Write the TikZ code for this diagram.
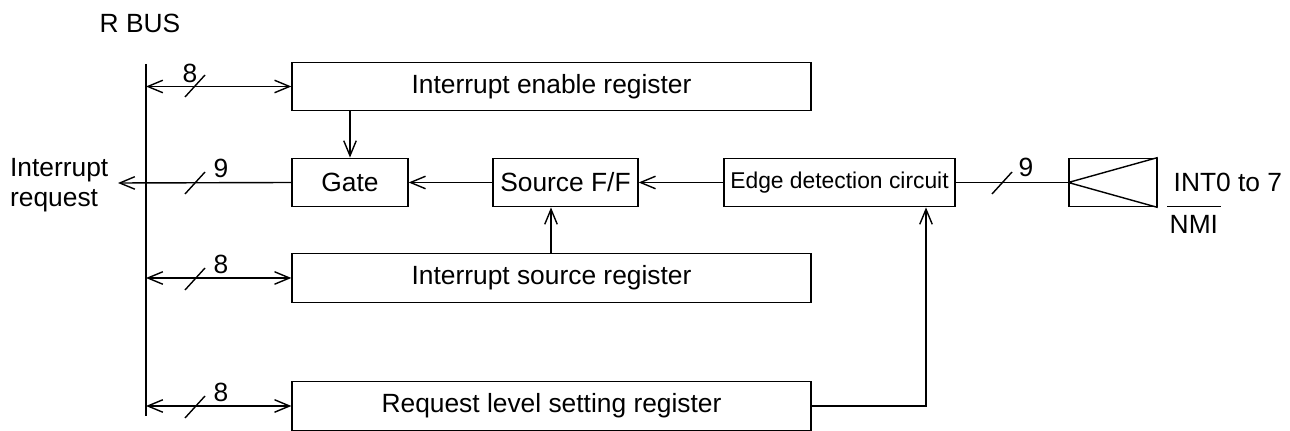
\documentclass[tikz,border=0pt]{standalone}
\usepackage{fontspec}
\setmainfont{Liberation Sans}
\usetikzlibrary{arrows.meta, positioning}

\begin{document}
\begin{tikzpicture}[
    x=0.02cm, y=-0.02cm,
    line width=0.8pt,
    box/.style={rectangle, draw, inner sep=0pt, minimum height=0.97cm,
                font=\fontsize{15}{17}\selectfont},
    arrow/.style={-{Straight Barb[length=0.3cm, width=0.25cm]}},
    biarrow/.style={{Straight Barb[length=0.3cm, width=0.25cm]}-{Straight Barb[length=0.3cm, width=0.25cm]}},
    lbl/.style={font=\fontsize{15}{17}\selectfont, inner sep=0pt}
]
\useasboundingbox (0,0) rectangle (1290,431);

\node[box, minimum width=10.38cm] (enable) at (551.5,86.5) {Interrupt enable register};
\node[box, minimum width=2.32cm]  (gate)   at (350,182.5)  {Gate};
\node[box, minimum width=2.9cm]   (srcff)  at (565.5,182.5) {Source F/F};
\node[box, minimum width=4.62cm, font=\fontsize{13}{15}\selectfont] (edge) at (839.5,182.5) {Edge detection circuit};
\node[box, minimum width=1.76cm]  (inbox)  at (1113,182.5) {};
\node[box, minimum width=10.38cm] (srcreg) at (551.5,278)  {Interrupt source register};
\node[box, minimum width=10.38cm] (reqreg) at (551.5,406)  {Request level setting register};

\node[lbl] (rbus) at (140,23) {R BUS};
\node[lbl, align=left, anchor=east] (irq) at (109,185.5) {Interrupt\\request};
\node[lbl, anchor=west] (intin) at (1173,182) {INT0 to 7};
\node[lbl, anchor=west] (nmi)   at (1169,224) {NMI};

\coordinate (bustop) at (146,64);
\coordinate (busbot) at (146,416);
\coordinate (irqtip) at (118,183);
\coordinate (ffin)   at (551,0);
\coordinate (edgein) at (926,0);

% R bus and its branches
\draw (bustop) -- (busbot);
\draw[biarrow] (enable.west -| bustop) -- (enable.west);
\draw[biarrow] (srcreg.west -| bustop) -- (srcreg.west);
\draw[biarrow] (reqreg.west -| bustop) -- (reqreg.west);
\draw[arrow] (gate.west) -- (irqtip);

% internal paths
\draw[arrow] (enable.south -| gate.north) -- (gate.north);
\draw[arrow] (srcff.west) -- (gate.east);
\draw[arrow] (edge.west) -- (srcff.east);
\draw[arrow] (srcreg.north -| ffin) -- (srcff.south -| ffin);
\draw[arrow] (reqreg.east) -| (edge.south -| edgein);
\draw (edge.east) -- (inbox.west);
\draw (inbox.west) -- (inbox.north east) (inbox.west) -- (inbox.south east);

% overbar of NMI
\draw ([shift={(-2,-8)}]nmi.north west) -- ([shift={(2,-8)}]nmi.north east);

% bus widths
\foreach \sx/\sy in {195/86, 195/183, 195/279, 195/407, 1002/183}
  \draw (\sx-10,\sy+11) -- (\sx+10,\sy-11);
\node[lbl] (w1) at (190,73)  {8};
\node[lbl] (w2) at (221,168) {9};
\node[lbl] (w3) at (221,264) {8};
\node[lbl] (w4) at (221,392) {8};
\node[lbl] (w5) at (1026,167) {9};
\end{tikzpicture}
\end{document}
